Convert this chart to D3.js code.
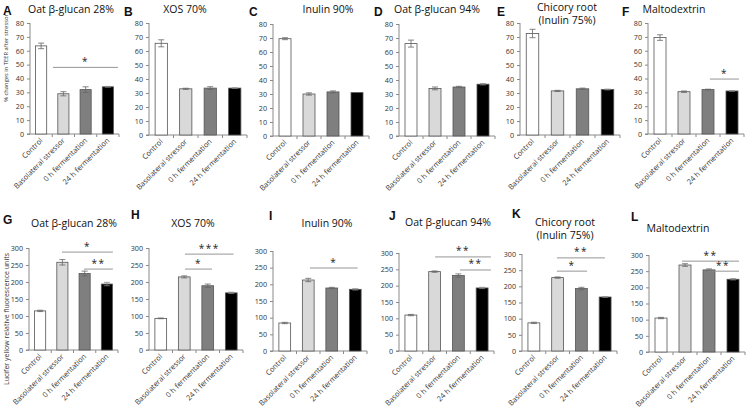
<!DOCTYPE html>
<html><head><meta charset="utf-8">
<script src="https://cdn.jsdelivr.net/npm/d3@7"></script>
<style>body{margin:0;background:#fff}svg{display:block}</style>
</head><body>
<svg id="c" width="747" height="409"></svg>
<script>
const categories = ["Control","Basolateral stressor","0 h fermentation","24 h fermentation"];
const panelLetters = ["A","B","C","D","E","F","G","H","I","J","K","L"];
const panelTitles = [["Oat β-glucan 28%"],["XOS 70%"],["Inulin 90%"],["Oat β-glucan 94%"],["Chicory root","(Inulin 75%)"],["Maltodextrin"],
  ["Oat β-glucan 28%"],["XOS 70%"],["Inulin 90%"],["Oat β-glucan 94%"],["Chicory root","(Inulin 75%)"],["Maltodextrin"]];
// TEER values (% changes)
const teerMeans = [[63.5,29,32,34],[65.5,33,33.5,33.5],[69.5,30,31.5,31],[66,34,35,37],[72.5,31.5,33,32.5],[69.5,30.5,32,31]];
const teerErr   = [[2,1.5,2,0.3],[2.5,0.4,1,0.2],[0.7,0.8,0.7,0],[2.5,1,0.5,0.5],[3,0.4,0.5,0.3],[2,0.5,0.3,0.2]];
// Lucifer yellow values
const lyMeans = [[115,258,225,194],[93,215,189,168],[84,213,189,185],[110,243,231,193],[87,227,193,167],[105,269,254,225]];
const lyErr   = [[2,8,7,5],[1,3,5,2],[2,5,2,2],[2,2,5,2],[2,2,4,1],[2,4,3,2]];
const teerTicks = [0,10,20,30,40,50,60,70,80];
const lyTicks = [0,50,100,150,200,250,300];
// significance brackets: [panel index, from (category pos), to, y value, label]
const sigs = [
  [0,1.03,3.95,48,"*"],
  [5,2.58,3.79,39.6,"*"],
  [6,1.48,3.77,288,"*"],[6,2.47,3.77,238,"**"],
  [7,1.53,3.6,282,"***"],[7,1.53,2.68,238,"*"],
  [8,1.57,3.6,249,"*"],
  [9,1.52,3.87,288,"**"],[9,2.57,3.87,248,"**"],
  [10,1.47,3.49,288,"**"],[10,1.47,2.74,247,"*"],
  [11,1.375,3.75,281,"**"],[11,2.42,3.75,250,"**"]
];
const barFill = ["#ffffff","#d9d9d9","#7f7f7f","#000000"];

// layout: [x0, x1, yTop, yBot, letterX, letterY, titleX, titleY]
const layout = [
  [30,119,23,134, 3,15, 71,13],
  [149,247,23,135, 124,16, 185,13],
  [273,369,24,136, 249,16, 328,13],
  [399,495,24,136, 374,16, 437,13],
  [520,620,23,135, 497,16, 567,11],
  [648,744,23,134, 622,16, 674,13],
  [29,118,248,350, 3,224, 74,227],
  [149,243,248,350, 131,219, 193,227],
  [273,367,251,351, 269,220, 327,227],
  [399,494,253,351, 389,220, 448,226],
  [522,617,254,351, 512,218, 565,226],
  [649,745,255,352, 631,221, 678,232]
];

const svg = d3.select("#c");
const font = "'Open Sans', 'Liberation Sans', sans-serif";

layout.forEach((L,i)=>{
  const top = i<6;
  const means = top ? teerMeans[i] : lyMeans[i-6];
  const errs = top ? teerErr[i] : lyErr[i-6];
  const ticks = top ? teerTicks : lyTicks;
  const ymax = top ? 80 : 300;
  const x = d3.scaleBand().domain(categories).range([L[0],L[1]]).padding(0);
  const y = d3.scaleLinear().domain([0,ymax]).range([L[3],L[2]]);
  const g = svg.append("g");
  const bw = x.bandwidth();
  const pos = p => L[0] + p*bw;

  // y axis
  const ya = g.append("g").attr("transform",`translate(${L[0]},0)`)
    .call(d3.axisLeft(y).tickValues(ticks).tickSize(3).tickPadding(3));
  ya.select(".domain").attr("stroke","#8a8a8a").attr("d",`M-3,${L[3]}H0V${L[2]}`);
  ya.selectAll(".tick line").attr("stroke","#8a8a8a");
  ya.selectAll(".tick text").attr("font-family",font).attr("font-size",7.2).attr("fill","#333");

  // x axis
  const xa = g.append("g").attr("transform",`translate(0,${L[3]})`)
    .call(d3.axisBottom(x).tickSize(0).tickFormat(""));
  xa.select(".domain").attr("stroke","#8a8a8a").attr("d",`M${L[0]},0H${L[1]}`);
  xa.selectAll(".tick").remove();
  g.selectAll(".xt").data(categories).join("line")
    .attr("x1",d=>x(d)+bw).attr("x2",d=>x(d)+bw)
    .attr("y1",L[3]).attr("y2",L[3]+3).attr("stroke","#8a8a8a");

  // bars
  g.selectAll(".bar").data(categories).join("rect")
    .attr("x",d=>x(d)+bw*0.25).attr("width",bw*0.5)
    .attr("y",(d,j)=>y(means[j])).attr("height",(d,j)=>y(0)-y(means[j]))
    .attr("fill",(d,j)=>barFill[j]).attr("stroke","#555").attr("stroke-width",0.8);

  // error bars
  categories.forEach((c,j)=>{
    if(errs[j]<=0) return;
    const cx = x(c)+bw/2;
    const e = g.append("g").attr("stroke",j===3?"#888":"#666").attr("stroke-width",0.8);
    e.append("line").attr("x1",cx).attr("x2",cx).attr("y1",y(means[j]+errs[j])).attr("y2",y(means[j]-errs[j]));
    e.append("line").attr("x1",cx-3).attr("x2",cx+3).attr("y1",y(means[j]+errs[j])).attr("y2",y(means[j]+errs[j]));
    e.append("line").attr("x1",cx-3).attr("x2",cx+3).attr("y1",y(means[j]-errs[j])).attr("y2",y(means[j]-errs[j]));
  });

  // category labels
  g.selectAll(".cl").data(categories).join("text")
    .attr("transform",d=>`translate(${x(d)+bw/2+2},${L[3]+7}) rotate(-45)`)
    .attr("text-anchor","end").attr("font-family",font).attr("font-size",7.4).attr("fill","#333")
    .text(d=>d);

  // significance
  sigs.filter(s=>s[0]===i).forEach(s=>{
    g.append("line").attr("x1",pos(s[1])).attr("x2",pos(s[2])).attr("y1",y(s[3])).attr("y2",y(s[3]))
      .attr("stroke","#8a8a8a").attr("stroke-width",0.9);
    g.append("text").attr("x",(pos(s[1])+pos(s[2]))/2).attr("y",y(s[3])-2.5)
      .attr("text-anchor","middle").attr("font-family",font).attr("font-size",10).attr("fill","#222")
      .attr("letter-spacing",1.5).text(s[4]);
  });

  // letter and title
  g.append("text").attr("x",L[4]).attr("y",L[5]).attr("font-family","'Liberation Sans', Arial, sans-serif")
    .attr("font-weight","bold").attr("font-size",12).attr("fill","#111").text(panelLetters[i]);
  panelTitles[i].forEach((t,k)=>{
    g.append("text").attr("x",L[6]).attr("y",L[7]+k*13).attr("text-anchor","middle")
      .attr("font-family",font).attr("font-size",10.5).attr("fill","#111").text(t);
  });
});

// y axis titles
svg.append("text").attr("transform","translate(8,58) rotate(-90)").attr("text-anchor","middle")
  .attr("font-family",font).attr("font-size",5.8).attr("fill","#333").text("% changes in TEER after stressor");
svg.append("text").attr("transform","translate(9,319) rotate(-90)").attr("text-anchor","middle")
  .attr("font-family",font).attr("font-size",7).attr("fill","#333").text("Lucifer yellow relative fluorescence units");
</script>
</body></html>
